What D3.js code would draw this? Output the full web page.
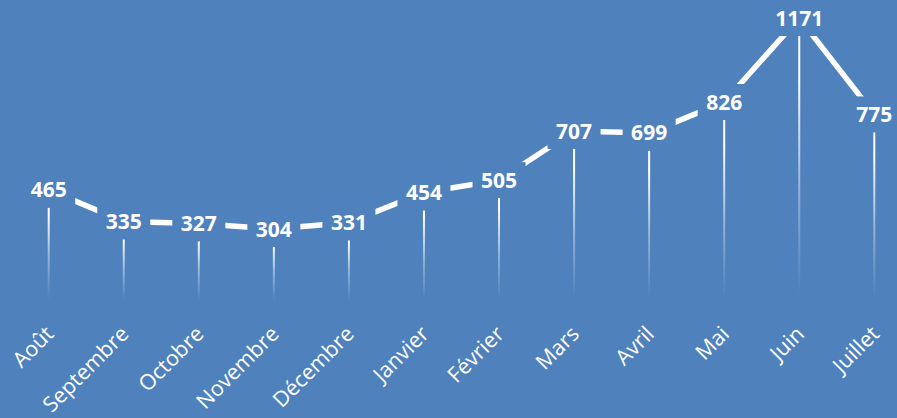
<!DOCTYPE html>
<html><head><meta charset="utf-8">
<script src="https://cdn.jsdelivr.net/npm/d3@7"></script>
<style>html,body{margin:0;padding:0;background:#4F81BD;overflow:hidden}</style>
</head><body>
<script>
const categories = ["Août","Septembre","Octobre","Novembre","Décembre","Janvier","Février","Mars","Avril","Mai","Juin","Juillet"];
const values = [465,335,327,304,331,454,505,707,699,826,1171,775];

const W = 897, H = 418, BG = "#4F81BD";
const svg = d3.select("body").append("svg").attr("width", W).attr("height", H);
svg.append("rect").attr("width", W).attr("height", H).attr("fill", BG);

const x = d3.scalePoint().domain(categories).range([48.7, 874.3]);
const y = d3.scaleLinear().domain([0, 1200]).range([303, 11]);

const defs = svg.append("defs");
const grad = defs.append("linearGradient").attr("id", "drop")
  .attr("x1", 0).attr("y1", 0).attr("x2", 0).attr("y2", 1);
grad.append("stop").attr("offset", 0).attr("stop-color", "#fff").attr("stop-opacity", 1);
grad.append("stop").attr("offset", 0.22).attr("stop-color", "#fff").attr("stop-opacity", 1);
grad.append("stop").attr("offset", 0.6).attr("stop-color", "#fff").attr("stop-opacity", 0.4);
grad.append("stop").attr("offset", 0.97).attr("stop-color", "#fff").attr("stop-opacity", 0);
grad.append("stop").attr("offset", 1).attr("stop-color", "#fff").attr("stop-opacity", 0);

const data = categories.map((c, i) => ({c, v: values[i]}));

// drop lines
svg.append("g").selectAll("rect").data(data).join("rect")
  .attr("x", d => x(d.c) - 1)
  .attr("y", d => y(d.v))
  .attr("width", 2)
  .attr("height", d => y(0) - y(d.v))
  .attr("fill", "url(#drop)");

// line
svg.append("path").datum(data)
  .attr("d", d3.line().x(d => x(d.c)).y(d => y(d.v)))
  .attr("fill", "none").attr("stroke", "#fff").attr("stroke-width", 5.5);

// data labels with background boxes
const lg = svg.append("g").selectAll("g").data(data).join("g")
  .attr("transform", d => `translate(${x(d.c)},${y(d.v)})`);
lg.append("text")
  .attr("text-anchor", "middle").attr("dy", "0.36em")
  .attr("font-family", "'Open Sans', sans-serif").attr("font-weight", "bold")
  .attr("font-size", 21).attr("fill", "#fff")
  .text(d => d.v);
lg.each(function() {
  const g = d3.select(this);
  const bb = g.select("text").node().getBBox();
  g.insert("rect", "text")
    .attr("x", -bb.width / 2 - 8.5).attr("y", -18)
    .attr("width", bb.width + 17).attr("height", 36)
    .attr("fill", BG);
});

// category labels
svg.append("g").selectAll("text").data(categories).join("text")
  .attr("transform", d => `translate(${x(d) + 1},${330}) rotate(-45)`)
  .attr("text-anchor", "end").attr("dy", "0.35em")
  .attr("font-family", "'Open Sans', sans-serif")
  .attr("font-size", 21.5).attr("fill", "#fff")
  .text(d => d);
</script>
</body></html>
